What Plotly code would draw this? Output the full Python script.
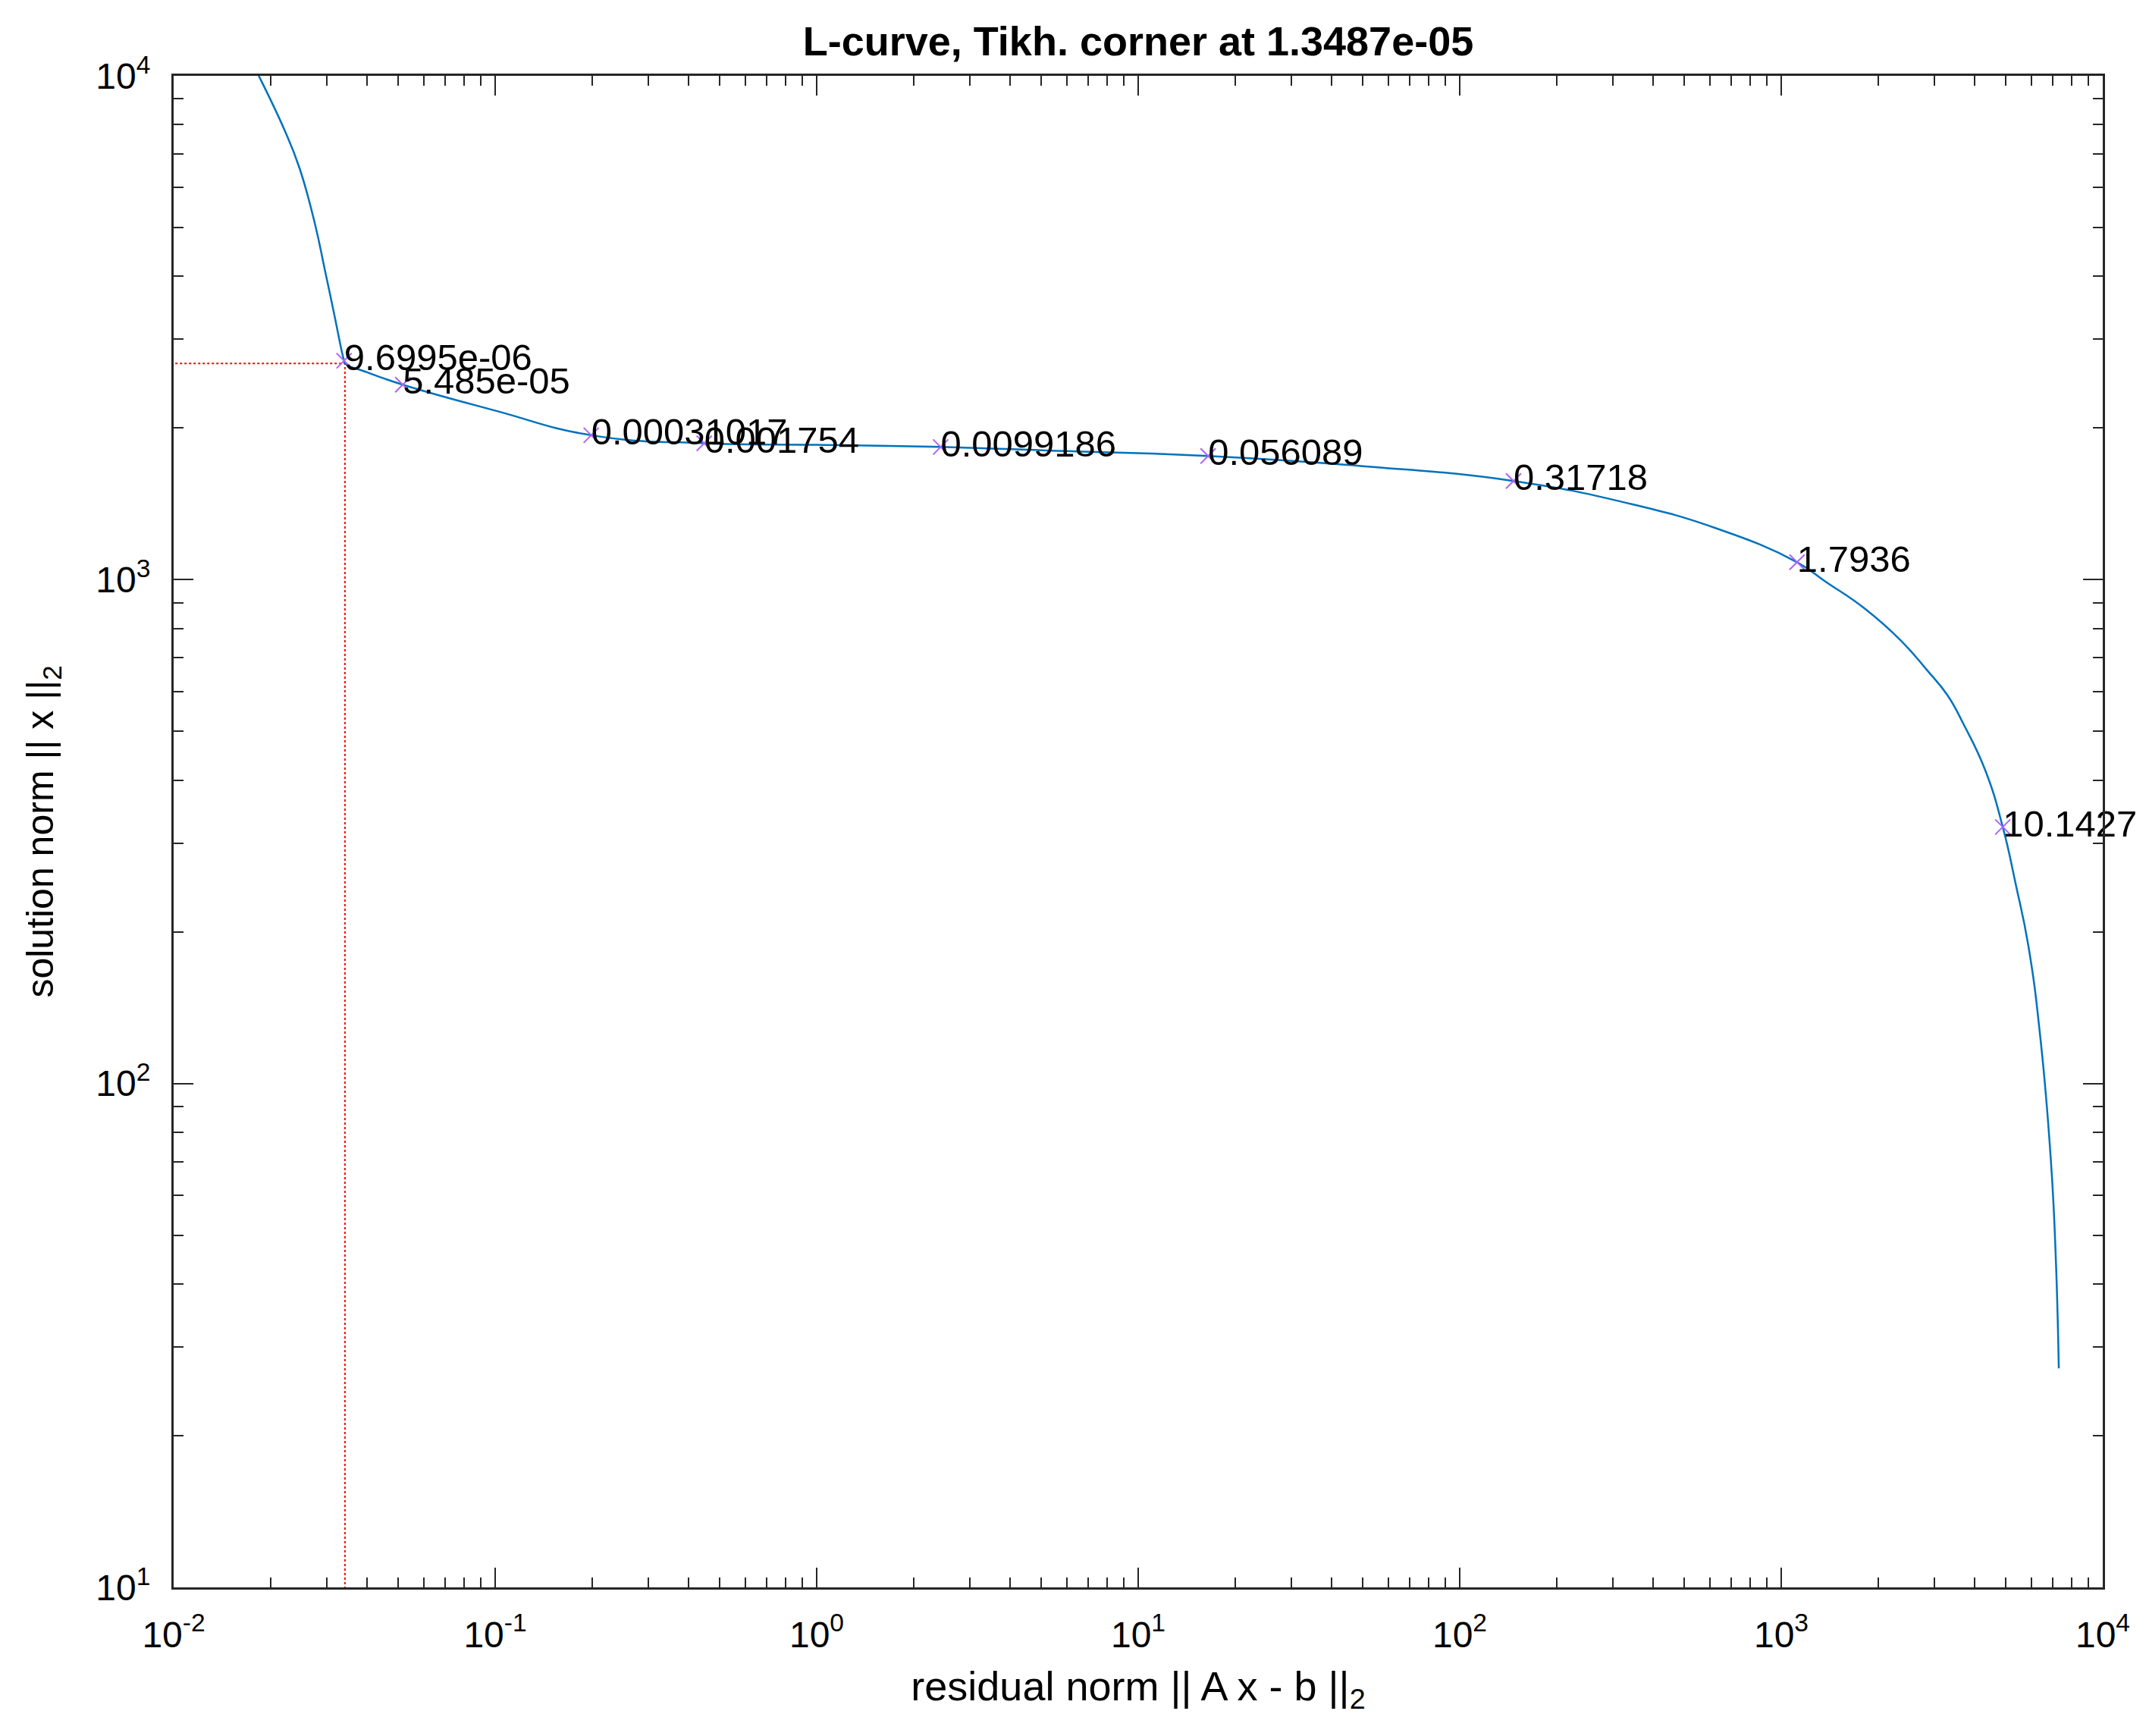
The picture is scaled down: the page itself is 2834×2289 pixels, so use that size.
import plotly.graph_objects as go

# ---- data ----
# L-curve: residual norm (rho) vs solution norm (eta)
rho = [0.0178, 0.0184, 0.0221, 0.0246, 0.0275, 0.0295, 0.0316, 0.0334, 0.0339, 0.0341,
       0.0400, 0.0516, 0.100, 0.199, 0.447, 1.00, 2.43, 6.0, 16.5, 50.0,
       147.0, 332.0, 634.0, 1120.0, 1377.0, 1807.0, 2371.0, 2838.0, 3287.0, 3700.0,
       4315.0, 4887.0, 5360.0, 5875.0, 6412.0, 6918.0, 7150.0, 7300.0]
eta = [10420, 10000, 7816, 6575, 5088, 4133, 3357, 2823, 2720, 2686,
       2580, 2438, 2166, 1935, 1865, 1852, 1834, 1800, 1760, 1680,
       1570, 1419, 1262, 1083, 990, 879, 754, 662, 590, 515,
       418, 323, 249, 187, 121.5, 68.4, 44.4, 27.2]

# labelled regularization parameters and their positions
lam_labels = ["1.7152e-06", "9.6995e-06", "5.485e-05", "0.00031017", "0.001754",
              "0.0099186", "0.056089", "0.31718", "1.7936", "10.1427"]
rho_marks = [0.0178, 0.0339, 0.0516, 0.199, 0.447, 2.43, 16.5, 147.0, 1120.0, 4887.0]
eta_marks = [10420, 2720, 2438, 1935, 1865, 1834, 1760, 1570, 1083, 323]

# corner
rho_corner = 0.0341
eta_corner = 2686
corner_lambda = "1.3487e-05"

x_tickvals = [1e-2, 1e-1, 1e0, 1e1, 1e2, 1e3, 1e4]
x_ticktext = ["10<sup>-2</sup>", "10<sup>-1</sup>", "10<sup>0</sup>", "10<sup>1</sup>",
              "10<sup>2</sup>", "10<sup>3</sup>", "10<sup>4</sup>"]
y_tickvals = [1e1, 1e2, 1e3, 1e4]
y_ticktext = ["10<sup>1</sup>", "10<sup>2</sup>", "10<sup>3</sup>", "10<sup>4</sup>"]

# ---- styling ----
FONT = "Liberation Sans, Arial, Helvetica, sans-serif"
AXC = "#262626"
BLUE = "#0072BD"


def minor_vals(lo_exp, hi_exp):
    return [m * 10.0 ** k for k in range(lo_exp, hi_exp) for m in range(2, 10)]


fig = go.Figure()

# red dotted lines to the corner (as in l_curve)
fig.add_trace(go.Scatter(x=[min(rho) / 100, rho_corner], y=[eta_corner, eta_corner],
                         mode="lines", line=dict(color="red", width=2, dash="dot"),
                         showlegend=False, hoverinfo="skip"))
fig.add_trace(go.Scatter(x=[rho_corner, rho_corner], y=[min(eta) / 100, eta_corner],
                         mode="lines", line=dict(color="red", width=2, dash="dot"),
                         showlegend=False, hoverinfo="skip"))

# the L-curve
fig.add_trace(go.Scatter(x=rho, y=eta, mode="lines",
                         line=dict(color=BLUE, width=2.5, shape="spline", smoothing=1.3),
                         showlegend=False))

# x markers
fig.add_trace(go.Scatter(x=rho_marks, y=eta_marks, mode="markers",
                         marker=dict(symbol="x-thin-open", size=20,
                                     line=dict(color="#8c8c8c", width=2)),
                         showlegend=False))

# labels
fig.add_trace(go.Scatter(x=rho_marks, y=eta_marks, mode="text", text=lam_labels,
                         textposition="middle right",
                         textfont=dict(family=FONT, size=49, color="black"),
                         cliponaxis=False, showlegend=False))

fig.update_layout(
    width=2834, height=2289,
    margin=dict(l=221, r=69, t=92, b=204),
    paper_bgcolor="white", plot_bgcolor="white",
    font=dict(family=FONT, color="black"),
    title=dict(text="<b>L-curve, Tikh. corner at " + corner_lambda + "</b>",
               x=0.5, xref="paper", xanchor="center",
               y=1 - 46 / 2289, yref="container", yanchor="middle",
               font=dict(family=FONT, size=54, color="black")),
)

common = dict(type="log", showgrid=False, zeroline=False,
              showline=True, linecolor=AXC, linewidth=3, mirror="ticks",
              ticks="inside", ticklen=26, tickwidth=2, tickcolor=AXC,
              tickfont=dict(family=FONT, size=48, color="black"))

fig.update_xaxes(**common, range=[-2, 4], tickmode="array",
                 tickvals=x_tickvals, ticktext=x_ticktext, ticklabelstandoff=18,
                 minor=dict(ticks="inside", ticklen=13, tickwidth=2, tickcolor=AXC,
                            tickmode="array", tickvals=minor_vals(-2, 4), showgrid=False),
                 title=dict(text="residual norm || A x - b ||<sub>2</sub>",
                            font=dict(family=FONT, size=54, color="black"), standoff=24))
fig.update_yaxes(**common, range=[1, 4], tickmode="array",
                 tickvals=y_tickvals, ticktext=y_ticktext, ticklabelstandoff=18,
                 minor=dict(ticks="inside", ticklen=13, tickwidth=2, tickcolor=AXC,
                            tickmode="array", tickvals=minor_vals(1, 4), showgrid=False),
                 title=dict(text="solution norm || x ||<sub>2</sub>",
                            font=dict(family=FONT, size=50, color="black"), standoff=40))

fig.write_html("out.html")
